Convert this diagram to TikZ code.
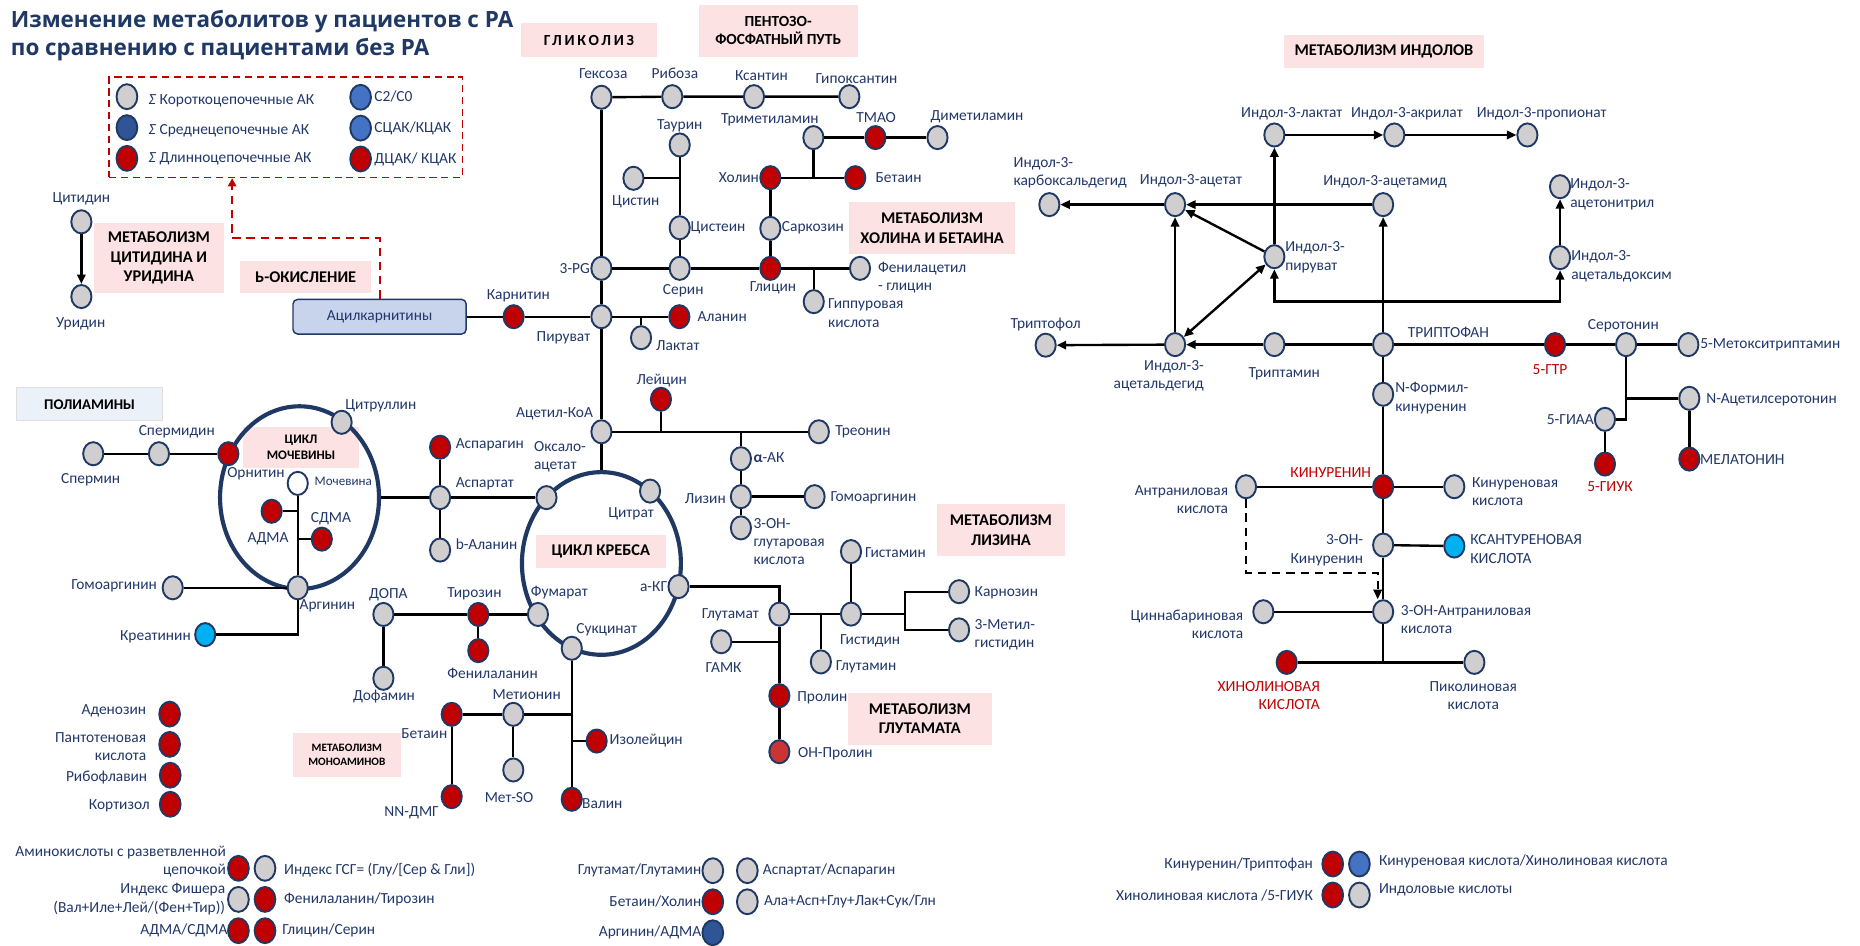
\documentclass[tikz,border=0pt]{standalone}
\usepackage{fontspec}
\setmainfont{Carlito}
\newfontfamily\titlefont{Open Sans}
\usetikzlibrary{shapes.geometric,arrows.meta,calc}
\definecolor{nb}{HTML}{1F3864}
\definecolor{tx}{HTML}{22386A}
\definecolor{gr}{HTML}{D0CECE}
\definecolor{rd}{HTML}{C00000}
\definecolor{lrd}{HTML}{CC3333}
\definecolor{bl}{HTML}{4472C4}
\definecolor{db}{HTML}{2F5597}
\definecolor{cy}{HTML}{00B0F0}
\definecolor{pk}{HTML}{FCE2E2}
\definecolor{lbx}{HTML}{EAF1F9}
\definecolor{acb}{HTML}{C7D4EC}
\tikzset{
 mn/.style={ellipse, draw=nb, line width=1.6pt, fill=gr, minimum width=17pt, minimum height=19.5pt, inner sep=0pt},
 rn/.style={mn, fill=rd},
 lg/.style={mn, minimum width=17.5pt, minimum height=21pt},
 t/.style={text=tx, font=\fontsize{13}{15.5}\selectfont, inner sep=0pt, align=center},
 tl/.style={t, anchor=west, align=left},
 tr/.style={t, anchor=east, align=right},
 ed/.style={line width=2pt, draw=black},
 ar/.style={ed, -{Triangle[length=8pt,width=7pt]}},
 pb/.style={fill=pk, text=black, font=\bfseries\fontsize{13.8}{16.5}\selectfont, align=center, inner sep=0pt},
 cyc/.style={ellipse, draw=nb, line width=3.5pt, minimum width=134pt, minimum height=154pt, inner sep=0pt},
}
\begin{document}
\begin{tikzpicture}[x=1pt,y=-1pt]
\useasboundingbox[fill=white] (0,0) rectangle (1568,797);
% ---------- title
\node[anchor=west, text=nb, font=\titlefont\bfseries\fontsize{18.9}{23}\selectfont, inner sep=0] (title1) at (9,18) {Изменение метаболитов у пациентов с РА};
\node[anchor=west, text=nb, font=\titlefont\bfseries\fontsize{18.9}{23}\selectfont, inner sep=0] (title2) at (9,42) {по сравнению с пациентами без РА};
% ---------- pink boxes
\node[pb, minimum width=114pt, minimum height=28pt, font=\bfseries\fontsize{13}{16}\selectfont] (bGlik) at (496.5,33.8) {\addfontfeatures{LetterSpace=18}ГЛИКОЛИЗ};
\node[pb, minimum width=134pt, minimum height=43.8pt, font=\bfseries\fontsize{13}{15}\selectfont] (bPent) at (656,25.9) {ПЕНТОЗО-\\ФОСФАТНЫЙ ПУТЬ};
\node[pb, minimum width=140.4pt, minimum height=43.5pt] (bHol) at (785.8,192.4) {МЕТАБОЛИЗМ\\ХОЛИНА И БЕТАИНА};
\node[pb, minimum width=109.8pt, minimum height=59.6pt] (bCyt) at (133.9,217.5) {МЕТАБОЛИЗМ\\ЦИТИДИНА И\\УРИДИНА};
\node[pb, minimum width=110.7pt, minimum height=27.3pt] (bOx) at (257.7,233.7) {Ь-ОКИСЛЕНИЕ};
\node[pb, minimum width=97.5pt, minimum height=35pt, font=\bfseries\fontsize{11}{13.5}\selectfont] (bUrea) at (253.8,377.2) {ЦИКЛ\\МОЧЕВИНЫ};
\node[pb, minimum width=110pt, minimum height=28pt] (bKreb) at (506.5,465) {ЦИКЛ КРЕБСА};
\node[pb, minimum width=108.4pt, minimum height=44pt] (bLiz) at (843.8,447) {МЕТАБОЛИЗМ\\ЛИЗИНА};
\node[pb, minimum width=121.3pt, minimum height=44pt] (bGlu) at (775.4,606) {МЕТАБОЛИЗМ\\ГЛУТАМАТА};
\node[pb, minimum width=91pt, minimum height=36.6pt, font=\bfseries\fontsize{9.5}{12}\selectfont] (bMono) at (292.4,636.5) {МЕТАБОЛИЗМ\\МОНОАМИНОВ};
\node[pb, minimum width=169.3pt, minimum height=28pt] (bInd) at (1166.7,43.6) {МЕТАБОЛИЗМ ИНДОЛОВ};
\node[pb, fill=lbx, draw=gray!25, line width=0.8pt, minimum width=123pt, minimum height=27.7pt, font=\bfseries\fontsize{12.5}{15}\selectfont] (bPoly) at (75.5,340.9) {ПОЛИАМИНЫ};
% ---------- legend box
\node[draw=rd, dash pattern=on 6pt off 4pt, line width=1.3pt, minimum width=298pt, minimum height=84.5pt, inner sep=0pt] (legbox) at (241,107.3) {};
\node[lg] (lg1) at (107,81.5) {};
\node[lg, fill=db] (lg2) at (107,107.6) {};
\node[lg, fill=rd] (lg3) at (107,133.5) {};
\node[lg, fill=bl] (lg4) at (304,82) {};
\node[lg, fill=bl] (lg5) at (304,108) {};
\node[lg, fill=rd] (lg6) at (304,134) {};
\node[tl] (lt1) at (125,85) {\textit{Σ} Короткоцепочечные АК};
\node[tl] (lt2) at (125,110) {\textit{Σ} Среднецепочечные АК};
\node[tl] (lt3) at (125,134) {\textit{Σ} Длинноцепочечные АК};
\node[tl] (lt4) at (315.5,81) {C2/C0};
\node[tl] (lt5) at (315.5,108) {СЦАК/КЦАК};
\node[tl] (lt6) at (315.5,134) {ДЦАК/ КЦАК};
% ---------- cycles
\node[cyc] (krebs) at (507,475) {};
\node[cyc] (urea) at (252.5,419.5) {};
% ---------- acylcarnitines
\node[draw=nb, fill=acb, rounded corners=4pt, line width=1.2pt, minimum width=146pt, minimum height=29.3pt, inner sep=0pt, text=tx, font=\fontsize{13}{15}\selectfont] (acyl) at (320,267) {Ацилкарнитины};
\coordinate (dl) at (195.7,201);
% ---------- nodes: glycolysis / PPP
\node[mn] (gex) at (507,82) {};
\node[mn] (rib) at (566.7,81.5) {};
\node[mn] (ksan) at (635.6,81.5) {};
\node[mn] (gipo) at (716,81.5) {};
\node[mn] (taur) at (573,122.2) {};
\node[mn] (cystin) at (534,150.3) {};
\node[mn] (cyst) at (573,192) {};
\node[mn] (pg3) at (507,226.2) {};
\node[mn] (ser) at (573,226.2) {};
\node[rn] (gly) at (649.4,226.2) {};
\node[mn] (fenac) at (725,226.2) {};
\node[mn] (gipp) at (686,254.3) {};
\node[rn] (hol) at (649.4,149.8) {};
\node[rn] (bet) at (721,149.8) {};
\node[mn] (tma) at (685.7,116) {};
\node[rn] (tmao) at (738,116) {};
\node[mn] (dma) at (790.3,116) {};
\node[mn] (sark) at (649.4,192.5) {};
\node[rn] (karn) at (433,267) {};
\node[mn] (pir) at (507,267) {};
\node[rn] (ala) at (572.7,267) {};
\node[mn] (lakt) at (540.4,284.7) {};
\node[rn] (leu) at (557.2,336.6) {};
\node[mn] (acoa) at (507,364) {};
\node[mn] (treo) at (690.3,364) {};
\node[mn] (aak) at (624.6,386.7) {};
\node[mn] (liz) at (624.6,418.7) {};
\node[mn] (gomo2) at (686.7,418.7) {};
\node[mn] (oh3g) at (624.6,445) {};
% ---------- Krebs
\node[mn] (oxa) at (460.7,419.5) {};
\node[mn] (cit) at (548,414) {};
\node[mn] (akg) at (572,494.5) {};
\node[mn] (suk) at (482,546.5) {};
\node[mn] (fum) at (453.5,518) {};
\node[mn] (asp) at (371,419.5) {};
\node[rn] (aspg) at (371,377) {};
\node[mn] (bal) at (371,463.7) {};
% ---------- urea
\node[rn] (orn) at (192.5,382.5) {};
\node[mn] (citr) at (288,356) {};
\node[mn] (arg) at (251,495.5) {};
\node[mn, fill=white] (moch) at (251,407.5) {};
\node[rn] (adma) at (229,431) {};
\node[rn] (sdma) at (271.3,454.5) {};
\node[mn] (gomo1) at (145.6,495.5) {};
\node[mn, fill=cy] (kreat) at (173,535) {};
\node[mn] (sperm) at (78.6,382.5) {};
\node[mn] (spermd) at (134,382.5) {};
% ---------- glutamate / monoamines
\node[mn] (glut) at (657,517.7) {};
\node[mn] (gist) at (717.4,517.7) {};
\node[mn] (gistamin) at (717.4,465) {};
\node[mn] (karnoz) at (808.5,498.8) {};
\node[mn] (metgis) at (808.5,531) {};
\coordinate (j1) at (763,517.7);
\node[mn] (glutamin) at (692,558) {};
\node[mn] (gamk) at (608,541) {};
\node[rn] (prol) at (657,586.5) {};
\node[mn, fill=lrd] (ohprol) at (657,633.7) {};
\node[mn] (dopa) at (323.2,518) {};
\node[rn] (tyr) at (403.2,518) {};
\node[rn] (phe) at (403.2,548.5) {};
\node[mn] (dofa) at (323.2,571.8) {};
\node[mn] (met) at (432.7,602.2) {};
\node[rn] (betm) at (380.8,602.2) {};
\node[mn] (metso) at (432.7,649.1) {};
\node[rn] (nndmg) at (380.8,671.6) {};
\node[rn] (izo) at (503,624.7) {};
\node[rn] (val) at (482,673.8) {};
% ---------- cytidine
\node[mn] (cyt) at (68.6,187) {};
\node[mn] (uri) at (68.6,250) {};
% ---------- misc list
\node[lg, fill=rd] (aden) at (143,602) {};
\node[lg, fill=rd] (pant) at (143,627.5) {};
\node[lg, fill=rd] (ribo) at (143.5,653.5) {};
\node[lg, fill=rd] (kort) at (143.5,678) {};
% ---------- indoles
\node[mn] (ilakt) at (1074.3,113.8) {};
\node[mn] (iakr) at (1175.4,113.8) {};
\node[mn] (iprop) at (1287.6,113.8) {};
\node[mn] (ikarb) at (884.6,172.5) {};
\node[mn] (iacet) at (990.6,172.5) {};
\node[mn] (iamid) at (1166,172.5) {};
\node[mn] (ipir) at (1074.3,216.4) {};
\node[mn] (initr) at (1315.1,157.4) {};
\node[mn] (ioksim) at (1315.1,217.2) {};
\node[mn] (itrfol) at (881.5,291) {};
\node[mn] (iald) at (990.6,290.5) {};
\node[mn] (itrm) at (1074.3,290.5) {};
\node[mn] (trp) at (1166,290.5) {};
\coordinate (jt) at (1166,254.3);
\node[rn] (g5tr) at (1310.9,290.5) {};
\node[mn] (ser5) at (1370.8,290.5) {};
\node[mn] (metoks) at (1423.3,290.5) {};
\node[mn] (nacs) at (1424.1,335.8) {};
\node[rn] (mel) at (1424.1,387) {};
\node[mn] (gia5) at (1353,353.5) {};
\node[rn] (giuk5) at (1353,391.2) {};
\node[mn] (nform) at (1166,332.4) {};
\node[rn] (kyn) at (1166,410.3) {};
\node[mn] (antr) at (1050.4,410.3) {};
\node[mn] (kynac) at (1226,410.3) {};
\node[mn] (oh3k) at (1166,459.5) {};
\node[mn, fill=cy] (ksant) at (1226,460.3) {};
\node[mn] (oh3a) at (1166,515.7) {};
\node[mn] (cinn) at (1065,515.7) {};
\coordinate (jq) at (1166,558.4);
\coordinate (jd) at (1161.4,482.8);
\node[rn] (hin) at (1084.7,558.4) {};
\node[mn] (pik) at (1242.9,558.4) {};
% ---------- bottom legends
\node[lg, fill=rd] (b1a) at (201,732) {};
\node[lg] (b1b) at (223.4,732) {};
\node[lg] (b2a) at (201,758.2) {};
\node[lg, fill=rd] (b2b) at (223.4,758.2) {};
\node[lg, fill=rd] (b3a) at (201,784.6) {};
\node[lg, fill=rd] (b3b) at (223.4,784.6) {};
\node[lg] (m1a) at (600.9,734) {};
\node[lg] (m1b) at (630,734) {};
\node[lg, fill=rd] (m2a) at (600.9,760.2) {};
\node[lg] (m2b) at (630,760.2) {};
\node[lg, fill=db] (m3a) at (600.9,786.3) {};
\node[lg, fill=rd] (r1a) at (1123.5,728.4) {};
\node[lg, fill=bl] (r1b) at (1146,728.4) {};
\node[lg, fill=rd] (r2a) at (1123.5,754.5) {};
\node[lg] (r2b) at (1146,754.5) {};
% ========== edges
\draw[draw=rd, line width=1.8pt, dash pattern=on 7pt off 5pt, -{Triangle[length=7pt,width=7pt]}] (acyl.north) |- (dl) -- (dl |- legbox.south);
\draw[ar] (cyt) -- (uri);
\draw[ed] (gex) -- (rib) -- (ksan) -- (gipo);
\draw[ed] (gex) -- (pg3) -- (pir) -- (acoa);
\draw[ed] (acoa) -- (acoa |- krebs.north);
\draw[ed] (acyl) -- (karn) -- (pir) -- (ala);
\draw[ed] (lakt) -- (lakt |- pir);
\draw[ed] (pg3) -- (ser) -- (gly) -- (fenac);
\draw[ed] (gipp) -- (gipp |- gly);
\draw[ed] (taur) -- (cyst) -- (ser);
\draw[ed] (cystin) -- (cystin -| cyst);
\draw[ed] (hol) -- (sark) -- (gly);
\draw[ed] (hol) -- (bet);
\draw[ed] (tma) -- (tma |- hol);
\draw[ed] (tma) -- (tmao) -- (dma);
\draw[ed] (acoa) -- (treo);
\draw[ed] (leu) -- (leu |- acoa);
\draw[ed] (aak |- acoa) -- (aak) -- (liz) -- (oh3g);
\draw[ed] (liz) -- (gomo2);
\draw[ed] (urea.east) -- (asp) -- (oxa);
\draw[ed] (aspg) -- (asp) -- (bal);
\draw[ed] (akg) -| (glut);
\draw[ed] (glut) -- (gist) -- (j1);
\draw[ed] (karnoz) -| (j1);
\draw[ed] (metgis) -| (j1);
\draw[ed] (gistamin) -- (gist);
\draw[ed] (glutamin) -- (glutamin |- glut);
\draw[ed] (glut) -- (prol) -- (ohprol);
\draw[ed] (gamk) -- (gamk -| glut);
\draw[ed] (dopa) -- (tyr) -- (fum);
\draw[ed] (tyr) -- (phe);
\draw[ed] (dopa) -- (dofa);
\draw[ed] (suk) -- (val);
\draw[ed] (betm) -- (met) -- (met -| suk);
\draw[ed] (betm) -- (nndmg);
\draw[ed] (met) -- (metso);
\draw[ed] (izo) -- (izo -| suk);
\draw[ed] (sperm) -- (spermd) -- (orn);
\draw[ed] (moch) -- (arg);
\draw[ed] (adma) -- (adma -| moch);
\draw[ed] (sdma) -- (sdma -| moch);
\draw[ed] (gomo1) -- (arg);
\draw[ed] (kreat) -| (arg);
% indoles
\draw[ar] (ilakt) -- (iakr);
\draw[ar] (iakr) -- (iprop);
\draw[ar] (iacet) -- (ikarb);
\draw[ar] (iamid) -- (iacet);
\draw[ar] (ipir) -- (iacet);
\draw[ar] (ipir) -- (ilakt);
\draw[ed, {Triangle[length=8pt,width=7pt]}-{Triangle[length=8pt,width=7pt]}] (ipir) -- (iald);
\draw[ar] (iald) -- (iacet);
\draw[ar] (iald) -- (itrfol);
\draw[ar] (itrm) -- (iald);
\draw[ed] (trp) -- (itrm);
\draw[ar] (trp) -- (iamid);
\draw[ar] (jt) -| (ipir);
\draw[ar] (jt) -| (ioksim);
\draw[ar] (ioksim) -- (initr);
\draw[ed] (trp) -- (g5tr) -- (ser5) -- (metoks);
\draw[ed] (ser5) |- (gia5);
\draw[ed] (nacs) -- (nacs -| ser5);
\draw[ed] (nacs) -- (mel);
\draw[ed] (gia5) -- (giuk5);
\draw[ed] (trp) -- (nform) -- (kyn) -- (oh3k) -- (oh3a) -- (jq);
\draw[ed] (antr) -- (kyn) -- (kynac);
\draw[ed] (oh3k) -- (ksant);
\draw[ed] (cinn) -- (oh3a);
\draw[ed] (hin) -- (pik);
\draw[ed, dash pattern=on 7pt off 5pt, -{Triangle[length=8pt,width=7pt]}] (antr) |- (jd) -- (jd |- oh3a.north);
% ========== labels
\node[t] (tGex) at (508.6,61.8) {Гексоза};
\node[t] (tRib) at (569,61.8) {Рибоза};
\node[t] (tKsan) at (642,64) {Ксантин};
\node[t] (tGipo) at (722,66) {Гипоксантин};
\node[t] (tTaur) at (573,106) {Таурин};
\node[t] (tCystin) at (536,170) {Цистин};
\node[tl] (tCyst) at (582,192) {Цистеин};
\node[tr] (tPg) at (497.5,226) {3-PG};
\node[t] (tSer) at (576,245.3) {Серин};
\node[t] (tGly) at (651.7,243) {Глицин};
\node[tl] (tFenac) at (740,234) {Фенилацетил\\- глицин};
\node[tl] (tGipp) at (698,264) {Гиппуровая\\кислота};
\node[tr] (tHol) at (640,150) {Холин};
\node[tl] (tBet) at (738,150) {Бетаин};
\node[t] (tTma) at (649,100.6) {Триметиламин};
\node[t] (tTmao) at (738.5,99) {ТМАО};
\node[t] (tDma) at (823.6,98.4) {Диметиламин};
\node[tl] (tSark) at (659,192) {Саркозин};
\node[t] (tKarn) at (437,249.5) {Карнитин};
\node[t] (tPir) at (475,285) {Пируват};
\node[tl] (tAla) at (588,267) {Аланин};
\node[tl] (tLakt) at (553,291) {Лактат};
\node[t] (tLeu) at (557.8,320.4) {Лейцин};
\node[t] (tAcoa) at (467.5,349) {Ацетил-КоА};
\node[tl] (tTreo) at (704,364) {Треонин};
\node[tl] (tAak) at (635,385.5) {\textbf{α}-АК};
\node[tr] (tLiz) at (612,420) {Лизин};
\node[tl] (tGomo2) at (700,420) {Гомоаргинин};
\node[tl] (tOh3g) at (635,456.5) {3-ОН-\\глутаровая\\кислота};
\node[tl] (tOxa) at (450,385) {Оксало-\\ацетат};
\node[tl] (tAspg) at (384,375) {Аспарагин};
\node[tl] (tAsp) at (384,408) {Аспартат};
\node[tl] (tBal) at (384,458.6) {b-Аланин};
\node[t] (tCit) at (532,433) {Цитрат};
\node[t] (tAkg) at (551,494.6) {а-КГ};
\node[t] (tFum) at (471.5,499.4) {Фумарат};
\node[t] (tSuk) at (511.4,531.1) {Сукцинат};
\node[tl] (tGistamin) at (729,466) {Гистамин};
\node[tr] (tGlut) at (640,518) {Глутамат};
\node[t] (tGist) at (733.5,540.5) {Гистидин};
\node[tl] (tKarnoz) at (821.5,499.5) {Карнозин};
\node[tl] (tMetgis) at (821.5,535) {3-Метил-\\гистидин};
\node[tl] (tGlutamin) at (704.5,562) {Глутамин};
\node[t] (tGamk) at (610,563) {ГАМК};
\node[tl] (tProl) at (672,588.5) {Пролин};
\node[tl] (tOhprol) at (672.6,635.6) {ОН-Пролин};
\node[t] (tDopa) at (327.4,501) {ДОПА};
\node[t] (tTyr) at (400,500.2) {Тирозин};
\node[t] (tPhe) at (415.3,567.6) {Фенилаланин};
\node[t] (tDofa) at (323.7,587.3) {Дофамин};
\node[t] (tMet) at (444,585.3) {Метионин};
\node[t] (tBetm) at (357.7,618.8) {Бетаин};
\node[tl] (tIzo) at (513.7,624.7) {Изолейцин};
\node[t] (tMetso) at (429.1,672.5) {Мет-SO};
\node[t] (tNndmg) at (347,684.8) {NN-ДМГ};
\node[tl] (tVal) at (490.6,677.2) {Валин};
\node[t] (tSpermd) at (149,364) {Спермидин};
\node[t] (tSperm) at (76.4,404) {Спермин};
\node[t] (tCitr) at (321,342) {Цитруллин};
\node[t] (tOrn) at (215.8,399.6) {Орнитин};
\node[t, font=\fontsize{11}{13}\selectfont] (tMoch) at (289.4,406) {Мочевина};
\node[t] (tAdma) at (226,454.5) {АДМА};
\node[t] (tSdma) at (279,437) {СДМА};
\node[t] (tArg) at (276,511) {Аргинин};
\node[tr] (tGomo1) at (132.5,494) {Гомоаргинин};
\node[tr] (tKreat) at (161,537) {Креатинин};
\node[t] (tCyt) at (68.6,167.8) {Цитидин};
\node[t] (tUri) at (68,272.6) {Уридин};
\node[tr] (tAden) at (123.4,599.4) {Аденозин};
\node[tr] (tPant) at (123.4,629.5) {Пантотеновая\\кислота};
\node[tr] (tRibo) at (124.3,655.6) {Рибофлавин};
\node[tr] (tKort) at (126.5,679.4) {Кортизол};
% bottom legend texts
\node[tr] (tb1) at (190.6,726.3) {Аминокислоты с разветвленной\\цепочкой};
\node[tl] (tb1r) at (239.4,733.5) {Индекс ГСГ= (Глу/[Сер \& Гли])};
\node[tr] (tb2) at (190,758) {Индекс Фишера\\(Вал+Иле+Лей/(Фен+Тир))};
\node[tl] (tb2r) at (239.4,758) {Фенилаланин/Тирозин};
\node[tr] (tb3) at (192,784.6) {АДМА/СДМА};
\node[tl] (tb3r) at (237.8,784.6) {Глицин/Серин};
\node[tr] (tm1) at (591.4,734) {Глутамат/Глутамин};
\node[tl] (tm1r) at (643,734) {Аспартат/Аспарагин};
\node[tr] (tm2) at (591.4,760.2) {Бетаин/Холин};
\node[tl] (tm2r) at (644,760.2) {Ала+Асп+Глу+Лак+Сук/Глн};
\node[tr] (tm3) at (591.4,786.3) {Аргинин/АДМА};
\node[tr] (tr1) at (1107,728.4) {Кинуренин/Триптофан};
\node[tl] (tr1r) at (1162.3,726) {Кинуреновая кислота/Хинолиновая кислота};
\node[tr] (tr2) at (1107,754.5) {Хинолиновая кислота /5-ГИУК};
\node[tl] (tr2r) at (1162.3,750) {Индоловые кислоты};
% indole labels
\node[t] (tIlakt) at (1089,95.5) {Индол-3-лактат};
\node[tl] (tIakr) at (1138.7,95.5) {Индол-3-акрилат};
\node[t] (tIprop) at (1299.7,95.5) {Индол-3-пропионат};
\node[tl] (tIkarb) at (854.3,145.5) {Индол-3-\\карбоксальдегид};
\node[t] (tIacet) at (1004,152.3) {Индол-3-ацетат};
\node[t] (tIamid) at (1167.6,153.2) {Индол-3-ацетамид};
\node[tl] (tIpir) at (1083.3,217) {Индол-3-\\пируват};
\node[tl] (tInitr) at (1323.6,163.7) {Индол-3-\\ацетонитрил};
\node[tl] (tIoksim) at (1324.4,224.4) {Индол-3-\\ацетальдоксим};
\node[t] (tItrfol) at (881.5,274) {Триптофол};
\node[tr] (tIald) at (1015,317) {Индол-3-\\ацетальдегид};
\node[t] (tItrm) at (1082.7,314.7) {Триптамин};
\node[tl] (tTrp) at (1186.7,280.5) {ТРИПТОФАН};
\node[t, text=rd] (tG5tr) at (1306.7,311.9) {5-ГТР};
\node[t] (tSer5) at (1368.5,274.5) {Серотонин};
\node[tl] (tMetoks) at (1433.2,290.5) {5-Метокситриптамин};
\node[tl] (tNacs) at (1438.2,337.2) {N-Ацетилсеротонин};
\node[tl] (tMel) at (1433,387) {МЕЛАТОНИН};
\node[tr] (tGia5) at (1343.8,353.5) {5-ГИАА};
\node[t, text=rd] (tGiuk5) at (1357.3,410.3) {5-ГИУК};
\node[tl] (tNform) at (1176,335.7) {N-Формил-\\кинуренин};
\node[t, text=rd] (tKyn) at (1121.8,398.5) {КИНУРЕНИН};
\node[tr] (tAntr) at (1035.5,421) {Антраниловая\\кислота};
\node[tl] (tKynac) at (1240.7,414.6) {Кинуреновая\\кислота};
\node[tr] (tOh3k) at (1149.3,464) {3-ОН-\\Кинуренин};
\node[tl] (tKsant) at (1239.3,462.8) {КСАНТУРЕНОВАЯ\\КИСЛОТА};
\node[tl] (tOh3a) at (1180.8,522.2) {3-ОН-Антраниловая\\кислота};
\node[tr] (tCinn) at (1048.2,526.5) {Циннабариновая\\кислота};
\node[tr, text=rd] (tHin) at (1112.8,586.6) {ХИНОЛИНОВАЯ\\КИСЛОТА};
\node[t] (tPik) at (1242,586.6) {Пиколиновая\\кислота};
\end{tikzpicture}
\end{document}
